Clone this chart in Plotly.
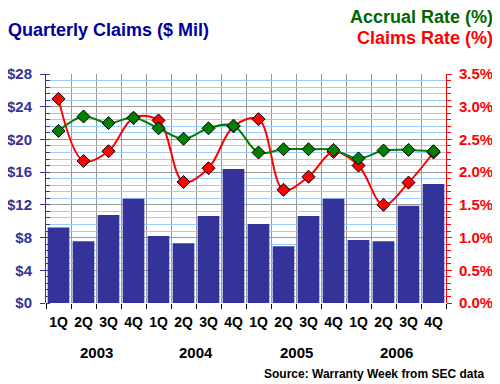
import plotly.graph_objects as go

quarters = ["1Q", "2Q", "3Q", "4Q"] * 4
years = ["2003", "2004", "2005", "2006"]
claims = [9.24, 7.56, 10.75, 12.75, 8.18, 7.32, 10.63, 16.39,
          9.65, 6.95, 10.63, 12.75, 7.69, 7.56, 11.89, 14.55]
accrual_rate = [2.63, 2.85, 2.75, 2.83, 2.67, 2.51, 2.67, 2.71,
                2.30, 2.35, 2.35, 2.34, 2.21, 2.33, 2.34, 2.32]
claims_rate = [3.12, 2.17, 2.32, 2.83, 2.79, 1.85, 2.06, 2.70,
               2.81, 1.73, 1.93, 2.31, 2.10, 1.50, 1.84, 2.30]

FONT = "Liberation Sans, Arial, sans-serif"
NAVY = "#333399"
x = list(range(len(quarters)))

# page is drawn with an 8px body margin; plot area in page pixels:
PL, PR, PT, PB = 46, 446, 74, 303
OFF = 8
W, H = 500 - OFF, 384 - OFF


def px_x(p):
    return (p - PL) / (PR - PL)


def px_y(p):
    return (PB - p) / (PB - PT)


fig = go.Figure()
fig.add_trace(go.Bar(x=x, y=claims, marker=dict(color=NAVY, line=dict(width=0)),
                     yaxis="y", showlegend=False))
fig.add_trace(go.Scatter(x=x, y=claims_rate, yaxis="y2", mode="lines+markers",
                         line=dict(color="#ff0000", width=2, shape="spline", smoothing=1),
                         marker=dict(symbol="diamond", size=10, color="#ff0000",
                                     line=dict(color="black", width=1)),
                         showlegend=False))
fig.add_trace(go.Scatter(x=x, y=accrual_rate, yaxis="y2", mode="lines+markers",
                         line=dict(color="#008000", width=2, shape="spline", smoothing=1),
                         marker=dict(symbol="diamond", size=10, color="#008000",
                                     line=dict(color="black", width=1)),
                         showlegend=False))

annotations = []
for k, yr in enumerate(years):
    idx = [i for i in range(len(quarters)) if i // 4 == k]
    annotations.append(dict(x=sum(idx) / len(idx), y=px_y(352), xref="x", yref="paper",
                            text=yr, showarrow=False, yanchor="middle",
                            font=dict(family=FONT, size=15, color="black", weight="bold")))
annotations += [
    dict(x=px_x(8), y=px_y(30), xref="paper", yref="paper", text="Quarterly Claims ($ Mil)",
         showarrow=False, xanchor="left", yanchor="middle", xshift=-2,
         font=dict(family=FONT, size=18, color="#000099", weight="bold")),
    dict(x=px_x(494), y=px_y(17), xref="paper", yref="paper", text="Accrual Rate (%)",
         showarrow=False, xanchor="right", yanchor="middle", borderpad=0,
         font=dict(family=FONT, size=18, color="#006600", weight="bold")),
    dict(x=px_x(494), y=px_y(38), xref="paper", yref="paper", text="Claims Rate (%)",
         showarrow=False, xanchor="right", yanchor="middle", borderpad=0,
         font=dict(family=FONT, size=18, color="#ff0000", weight="bold")),
    dict(x=px_x(486), y=px_y(374), xref="paper", yref="paper",
         text="Source: Warranty Week from SEC data", showarrow=False,
         xanchor="right", yanchor="middle",
         font=dict(family=FONT, size=12, color="black", weight="bold")),
]

fig.update_layout(
    width=W, height=H,
    margin=dict(l=PL - OFF, r=500 - PR, t=PT - OFF, b=384 - PB, autoexpand=False),
    paper_bgcolor="white", plot_bgcolor="white",
    bargap=0.134,
    xaxis=dict(range=[-0.5, 15.5], tickvals=x, ticktext=quarters, ticks="",
               showgrid=False, zeroline=False, showline=False,
               ticklabelstandoff=9,
               tickfont=dict(family=FONT, size=14, color="black", weight="bold"),
               minor=dict(tickvals=[i - 0.5 for i in range(17)], showgrid=True,
                          gridcolor="#999999", gridwidth=1, ticks="outside",
                          ticklen=5, tickcolor="black")),
    yaxis=dict(range=[0, 28], dtick=4, tick0=0, tickprefix="$",
               showgrid=True, gridcolor="#999999", gridwidth=1, zeroline=False,
               showline=True, linecolor=NAVY, linewidth=1,
               ticks="outside", ticklen=5, tickcolor=NAVY,
               ticklabelstandoff=5,
               tickfont=dict(family=FONT, size=15, color=NAVY, weight="bold"),
               minor=dict(dtick=0.8, tick0=0, showgrid=True, gridcolor="#99ccff",
                          gridwidth=1, ticks="inside", ticklen=4, tickcolor=NAVY)),
    yaxis2=dict(range=[0, 3.5], dtick=0.5, tick0=0, overlaying="y", side="right",
                ticksuffix="%", tickformat=".1f", showgrid=False, zeroline=False,
                showline=True, linecolor="#ff0000", linewidth=1,
                ticks="outside", ticklen=5, tickcolor="#ff0000",
                ticklabelstandoff=4,
                tickfont=dict(family=FONT, size=15, color="#ff0000", weight="bold"),
                minor=dict(dtick=0.1, tick0=0, ticks="outside", ticklen=4,
                           tickcolor="#ff0000", showgrid=False)),
    annotations=annotations,
)

fig.write_html("out.html")
